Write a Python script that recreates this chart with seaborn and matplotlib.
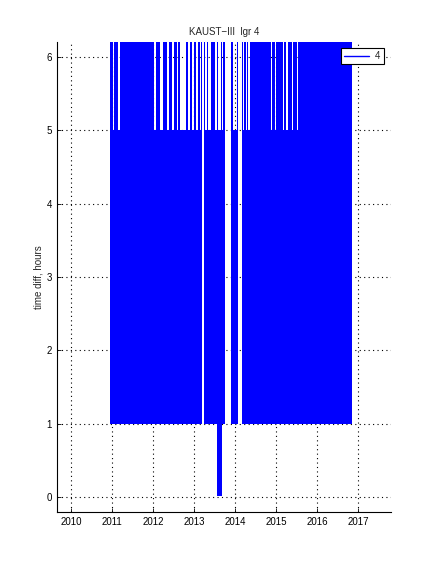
import matplotlib
matplotlib.use("Agg")
import matplotlib.pyplot as plt
from matplotlib.lines import Line2D
import seaborn as sns
import numpy as np

# Segments of the time-difference trace (decimal years), with the upper and
# lower envelope reached by the oscillating line inside each segment.
# top 7 means the trace goes above the visible range (6.2).
seg_start = [2010.951, 2011.024, 2011.061, 2011.146, 2011.183, 2012.024, 2012.073,
             2012.171, 2012.232, 2012.329, 2012.378, 2012.463, 2012.512, 2012.585,
             2012.617, 2012.659, 2012.805, 2012.861, 2012.902, 2012.944, 2013.000,
             2013.049, 2013.105, 2013.139, 2013.171,
             2013.244, 2013.268, 2013.310, 2013.341, 2013.415, 2013.512, 2013.554,
             2013.593, 2013.651, 2013.676, 2013.715,
             2013.902, 2013.951, 2014.041,
             2014.163, 2014.202, 2014.227, 2014.268, 2014.300, 2014.324, 2014.366,
             2014.878, 2014.902, 2014.976, 2015.000, 2015.178, 2015.202, 2015.244,
             2015.285, 2015.383, 2015.407, 2015.520, 2015.544]
seg_end = [2011.024, 2011.061, 2011.146, 2011.183, 2012.024, 2012.073, 2012.171,
           2012.232, 2012.329, 2012.378, 2012.463, 2012.512, 2012.585, 2012.617,
           2012.659, 2012.805, 2012.861, 2012.902, 2012.944, 2013.000, 2013.049,
           2013.105, 2013.139, 2013.171, 2013.202,
           2013.268, 2013.310, 2013.341, 2013.415, 2013.512, 2013.554, 2013.593,
           2013.651, 2013.676, 2013.715, 2013.756,
           2013.951, 2014.041, 2014.080,
           2014.202, 2014.227, 2014.268, 2014.300, 2014.324, 2014.366, 2014.878,
           2014.902, 2014.976, 2015.000, 2015.178, 2015.202, 2015.244, 2015.285,
           2015.383, 2015.407, 2015.520, 2015.544, 2016.854]
seg_top = [7, 5, 7, 5, 7, 5, 7,
           5, 7, 5, 7, 5, 7, 5,
           7, 5, 7, 5, 7, 5, 7,
           5, 7, 5, 7,
           7, 5, 7, 5, 7, 5, 7,
           5, 7, 5, 7,
           7, 5, 7,
           7, 5, 7, 5, 7, 5, 7,
           5, 7, 5, 7, 5, 7, 5,
           7, 5, 7, 5, 7]
seg_bottom = [1, 1, 1, 1, 1, 1, 1,
              1, 1, 1, 1, 1, 1, 1,
              1, 1, 1, 1, 1, 1, 1,
              1, 1, 1, 1,
              1, 1, 1, 1, 1, 1, 0.02,
              0.02, 0.02, 1, 1,
              1, 1, 1,
              1, 1, 1, 1, 1, 1, 1,
              1, 1, 1, 1, 1, 1, 1,
              1, 1, 1, 1, 1]

x_ticks = [2010, 2011, 2012, 2013, 2014, 2015, 2016, 2017]
y_ticks = [0, 1, 2, 3, 4, 5, 6]

sns.set_theme(style="white")
plt.rcParams['font.family'] = ['Liberation Sans', 'DejaVu Sans']

fig = plt.figure(figsize=(4.32, 5.76), dpi=100)
ax = fig.add_axes([0.132, 0.111, 0.773, 0.816])

start = np.array(seg_start)
end = np.array(seg_end)
top = np.array(seg_top, dtype=float)
bot = np.array(seg_bottom, dtype=float)
ax.bar(start, top - bot, width=end - start, bottom=bot, align='edge',
       color='#0000ff', linewidth=0, antialiased=False, zorder=2)

ax.set_xlim(2009.66, 2017.8)
ax.set_ylim(-0.2, 6.2)
ax.set_xticks(x_ticks)
ax.set_xticklabels([str(t) for t in x_ticks])
ax.set_yticks(y_ticks)
ax.grid(True, color='black', linestyle=(0, (1, 3)), linewidth=0.8)
ax.set_axisbelow(True)

for s in ['top', 'right']:
    ax.spines[s].set_visible(False)
for s in ['left', 'bottom']:
    ax.spines[s].set_color('black')
    ax.spines[s].set_linewidth(0.8)
ax.tick_params(axis='both', direction='in', length=3, width=0.6, labelsize=7,
               colors='black', left=True, bottom=True)

ax.set_title('KAUST\u2212III  lgr 4', fontsize=7, pad=5)
ax.set_ylabel('time diff, hours', fontsize=7, labelpad=2)

handle = Line2D([], [], color='#0000ff', linewidth=1)
leg = ax.legend([handle], ['4'], loc='upper right', bbox_to_anchor=(0.979, 0.988),
                borderaxespad=0, fontsize=7, handlelength=2.6, fancybox=False,
                framealpha=1, edgecolor='black', borderpad=0.35, handletextpad=0.6)
leg.get_frame().set_linewidth(0.8)

fig.savefig('out.png', dpi=100, facecolor='white')
